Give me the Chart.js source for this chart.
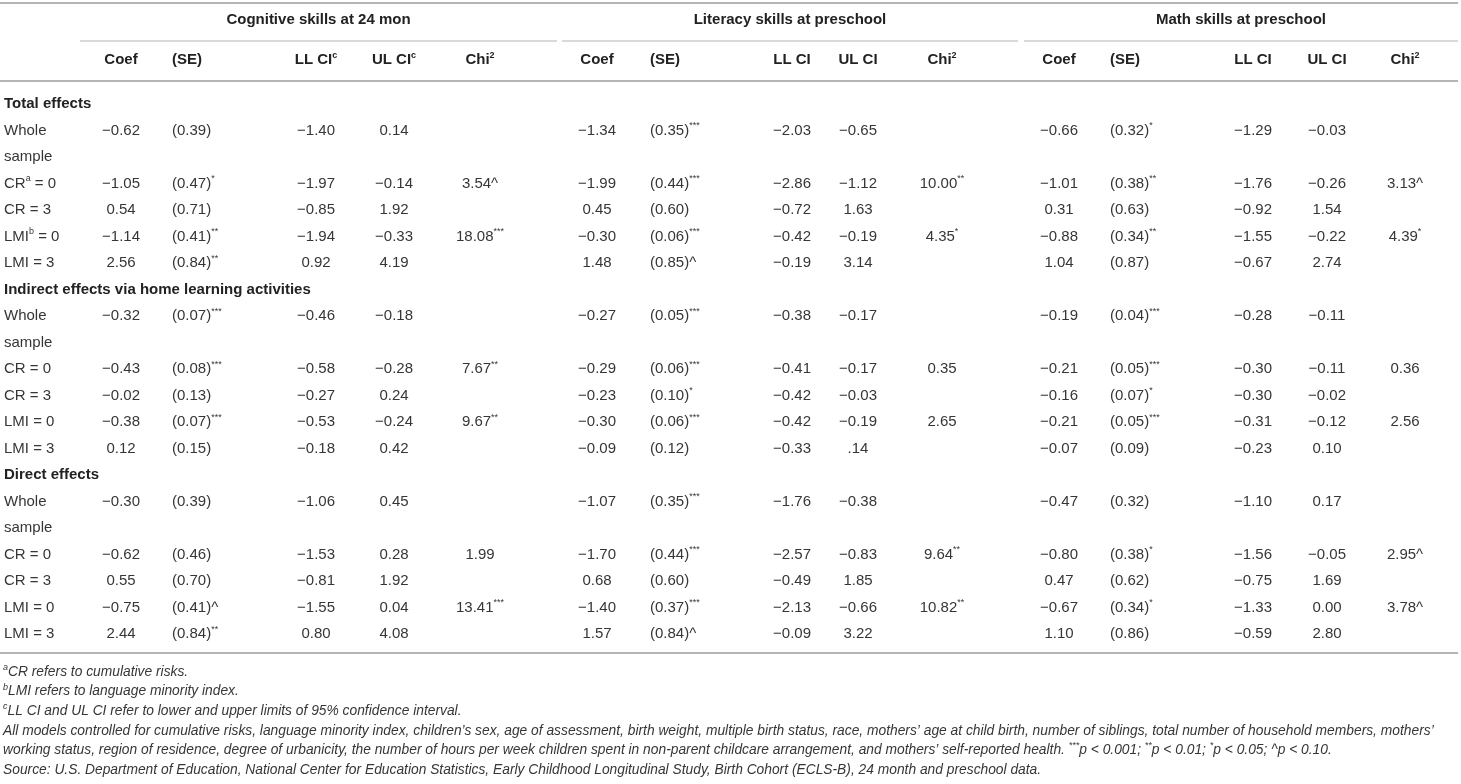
<!DOCTYPE html>
<html>
<head>
<meta charset="utf-8">
<script src="https://cdn.jsdelivr.net/npm/chart.js@4.4.1/dist/chart.umd.min.js"></script>
<style>
  html, body { margin: 0; padding: 0; background: #fff; }
  canvas { display: block; }
</style>
</head>
<body>
<canvas id="table" width="1461" height="784"></canvas>
<script>
// table content
var groups = ["Cognitive skills at 24 mon", "Literacy skills at preschool", "Math skills at preschool"];
var columnHeads = [
    ["Coef", "(SE)", "LL CI{c}", "UL CI{c}", "Chi{2}"],
    ["Coef", "(SE)", "LL CI", "UL CI", "Chi{2}"],
    ["Coef", "(SE)", "LL CI", "UL CI", "Chi{2}"]
];
var sections = ["Total effects", "Indirect effects via home learning activities", "Direct effects"];
var rowLabels = [
    ["Whole", "CR{a} = 0", "CR = 3", "LMI{b} = 0", "LMI = 3"],
    ["Whole", "CR = 0", "CR = 3", "LMI = 0", "LMI = 3"],
    ["Whole", "CR = 0", "CR = 3", "LMI = 0", "LMI = 3"]
];

// cognitive skills at 24 months
var cogCoef = ["−0.62", "−1.05", "0.54", "−1.14", "2.56", "−0.32", "−0.43", "−0.02", "−0.38", "0.12", "−0.30", "−0.62", "0.55", "−0.75", "2.44"];
var cogSE = ["(0.39)", "(0.47)*", "(0.71)", "(0.41)**", "(0.84)**", "(0.07)***", "(0.08)***", "(0.13)", "(0.07)***", "(0.15)", "(0.39)", "(0.46)", "(0.70)", "(0.41)^", "(0.84)**"];
var cogLL = ["−1.40", "−1.97", "−0.85", "−1.94", "0.92", "−0.46", "−0.58", "−0.27", "−0.53", "−0.18", "−1.06", "−1.53", "−0.81", "−1.55", "0.80"];
var cogUL = ["0.14", "−0.14", "1.92", "−0.33", "4.19", "−0.18", "−0.28", "0.24", "−0.24", "0.42", "0.45", "0.28", "1.92", "0.04", "4.08"];
var cogChi = ["", "3.54^", "", "18.08***", "", "", "7.67**", "", "9.67**", "", "", "1.99", "", "13.41***", ""];

// literacy skills at preschool
var litCoef = ["−1.34", "−1.99", "0.45", "−0.30", "1.48", "−0.27", "−0.29", "−0.23", "−0.30", "−0.09", "−1.07", "−1.70", "0.68", "−1.40", "1.57"];
var litSE = ["(0.35)***", "(0.44)***", "(0.60)", "(0.06)***", "(0.85)^", "(0.05)***", "(0.06)***", "(0.10)*", "(0.06)***", "(0.12)", "(0.35)***", "(0.44)***", "(0.60)", "(0.37)***", "(0.84)^"];
var litLL = ["−2.03", "−2.86", "−0.72", "−0.42", "−0.19", "−0.38", "−0.41", "−0.42", "−0.42", "−0.33", "−1.76", "−2.57", "−0.49", "−2.13", "−0.09"];
var litUL = ["−0.65", "−1.12", "1.63", "−0.19", "3.14", "−0.17", "−0.17", "−0.03", "−0.19", ".14", "−0.38", "−0.83", "1.85", "−0.66", "3.22"];
var litChi = ["", "10.00**", "", "4.35*", "", "", "0.35", "", "2.65", "", "", "9.64**", "", "10.82**", ""];

// math skills at preschool
var mathCoef = ["−0.66", "−1.01", "0.31", "−0.88", "1.04", "−0.19", "−0.21", "−0.16", "−0.21", "−0.07", "−0.47", "−0.80", "0.47", "−0.67", "1.10"];
var mathSE = ["(0.32)*", "(0.38)**", "(0.63)", "(0.34)**", "(0.87)", "(0.04)***", "(0.05)***", "(0.07)*", "(0.05)***", "(0.09)", "(0.32)", "(0.38)*", "(0.62)", "(0.34)*", "(0.86)"];
var mathLL = ["−1.29", "−1.76", "−0.92", "−1.55", "−0.67", "−0.28", "−0.30", "−0.30", "−0.31", "−0.23", "−1.10", "−1.56", "−0.75", "−1.33", "−0.59"];
var mathUL = ["−0.03", "−0.26", "1.54", "−0.22", "2.74", "−0.11", "−0.11", "−0.02", "−0.12", "0.10", "0.17", "−0.05", "1.69", "0.00", "2.80"];
var mathChi = ["", "3.13^", "", "4.39*", "", "", "0.36", "", "2.56", "", "", "2.95^", "", "3.78^", ""];

var footnotes = [
    "{a}CR refers to cumulative risks.",
    "{b}LMI refers to language minority index.",
    "{c}LL CI and UL CI refer to lower and upper limits of 95% confidence interval.",
    "All models controlled for cumulative risks, language minority index, children’s sex, age of assessment, birth weight, multiple birth status, race, mothers’ age at child birth, number of siblings, total number of household members, mothers’",
    "working status, region of residence, degree of urbanicity, the number of hours per week children spent in non-parent childcare arrangement, and mothers’ self-reported health. ***p < 0.001; **p < 0.01; *p < 0.05; ^p < 0.10.",
    "Source: U.S. Department of Education, National Center for Education Statistics, Early Childhood Longitudinal Study, Birth Cohort (ECLS-B), 24 month and preschool data."
];

var values = [
    [cogCoef, cogSE, cogLL, cogUL, cogChi],
    [litCoef, litSE, litLL, litUL, litChi],
    [mathCoef, mathSE, mathLL, mathUL, mathChi]
];

// layout (x in canvas units, SE column is left aligned, the rest centred)
var colX = [
    [121, 172, 316, 394, 480],
    [597, 650, 792, 858, 942],
    [1059, 1110, 1253, 1327, 1405]
];
var colAlign = ["center", "left", "center", "center", "center"];
var groupSpan = [[80, 557], [562, 1018], [1024, 1458]];
var rowTop = 104, rowStep = 26.5;
var slots = [1, 3, 4, 5, 6];   // row slots of the data rows inside a section
function rowY(i) { return rowTop + i * rowStep; }

var FONT = "'Liberation Sans', Arial, Helvetica, sans-serif";
var TEXT = "#363636";
var RULE = "#b4b4b4";

// text with {superscript} parts; runs of * are drawn as superscript too
function drawRich(ctx, str, x, y, align, size, weight, style) {
    var parts = [];
    var re = /\{([^}]*)\}|(\*+)|([^{*]+)/g, m;
    while ((m = re.exec(str)) !== null) {
        if (m[1] !== undefined) parts.push({ t: m[1], sup: true });
        else if (m[2] !== undefined) parts.push({ t: m[2], sup: true });
        else parts.push({ t: m[3], sup: false });
    }
    var base = (style || "normal") + " " + (weight || "normal") + " " + size + "px " + FONT;
    var small = (style || "normal") + " " + (weight || "normal") + " " + Math.round(size * 0.62) + "px " + FONT;
    var w = 0;
    parts.forEach(function (p) {
        ctx.font = p.sup ? small : base;
        p.w = ctx.measureText(p.t).width;
        w += p.w;
    });
    var cx = align === "center" ? x - w / 2 : (align === "right" ? x - w : x);
    ctx.textAlign = "left";
    ctx.textBaseline = "middle";
    parts.forEach(function (p) {
        ctx.font = p.sup ? small : base;
        ctx.fillText(p.t, cx, p.sup ? y - size * 0.33 : y);
        cx += p.w;
    });
}

// one invisible scatter dataset per table column; the plugin writes the cell text at each point
var datasets = [];
values.forEach(function (cols, g) {
    cols.forEach(function (arr, c) {
        datasets.push({
            label: groups[g] + " " + columnHeads[g][c],
            align: colAlign[c],
            data: arr.map(function (v, i) {
                var s = Math.floor(i / 5), k = i % 5;
                return { x: colX[g][c], y: rowY(s * 7 + slots[k]), text: v };
            })
        });
    });
});
var labelData = [];
sections.forEach(function (sec, s) {
    labelData.push({ x: 4, y: rowY(s * 7), text: sec, bold: true });
    rowLabels[s].forEach(function (lab, k) {
        labelData.push({ x: 4, y: rowY(s * 7 + slots[k]), text: lab });
    });
    labelData.push({ x: 4, y: rowY(s * 7 + 2), text: "sample" });
});
datasets.push({ label: "rows", align: "left", data: labelData });

var tablePlugin = {
    id: "tableText",
    afterDatasetsDraw: function (chart) {
        var ctx = chart.ctx;
        var xs = chart.scales.x, ys = chart.scales.y;
        ctx.save();

        // rules
        function rule(x1, x2, y, lw) {
            ctx.strokeStyle = RULE;
            ctx.lineWidth = lw;
            ctx.beginPath();
            ctx.moveTo(xs.getPixelForValue(x1), ys.getPixelForValue(y));
            ctx.lineTo(xs.getPixelForValue(x2), ys.getPixelForValue(y));
            ctx.stroke();
        }
        rule(0, 1458, 3, 2);
        rule(0, 1458, 81, 2);
        rule(0, 1458, 653, 2);
        groupSpan.forEach(function (sp) { rule(sp[0], sp[1], 41, 1); });

        // headers
        ctx.fillStyle = "#222222";
        groups.forEach(function (g, i) {
            var cx = (groupSpan[i][0] + groupSpan[i][1]) / 2;
            drawRich(ctx, g, xs.getPixelForValue(cx), ys.getPixelForValue(20), "center", 15, "bold");
            columnHeads[i].forEach(function (h, c) {
                drawRich(ctx, h, xs.getPixelForValue(colX[i][c]), ys.getPixelForValue(60), colAlign[c], 15, "bold");
            });
        });

        // cells
        chart.data.datasets.forEach(function (ds, di) {
            var meta = chart.getDatasetMeta(di);
            meta.data.forEach(function (pt, i) {
                var d = ds.data[i];
                ctx.fillStyle = d.bold ? "#222222" : TEXT;
                drawRich(ctx, d.text, pt.x, pt.y, ds.align, 15, d.bold ? "bold" : "normal");
            });
        });

        // footnotes
        ctx.fillStyle = TEXT;
        footnotes.forEach(function (f, i) {
            drawRich(ctx, f, xs.getPixelForValue(3), ys.getPixelForValue(672 + i * 19.6), "left", 13.8, "normal", "italic");
        });
        ctx.restore();
    }
};

new Chart(document.getElementById("table"), {
    type: "scatter",
    data: { datasets: datasets },
    options: {
        responsive: false,
        animation: false,
        events: [],
        layout: { padding: 0 },
        elements: { point: { radius: 0, hoverRadius: 0 } },
        plugins: { legend: { display: false }, tooltip: { enabled: false } },
        scales: {
            x: { type: "linear", min: 0, max: 1461, display: false },
            y: { type: "linear", min: 0, max: 784, reverse: true, display: false }
        }
    },
    plugins: [tablePlugin]
});
</script>
</body>
</html>
